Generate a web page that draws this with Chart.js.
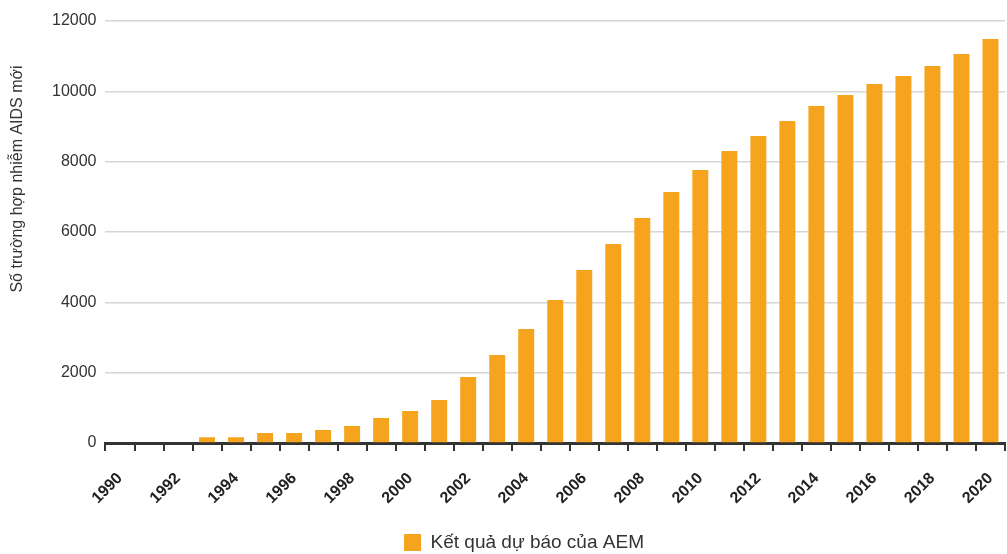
<!DOCTYPE html>
<html>
<head>
<meta charset="utf-8">
<script src="https://cdn.jsdelivr.net/npm/chart.js@4/dist/chart.umd.min.js"></script>
<style>
  html, body { margin: 0; padding: 0; background: #ffffff; }
  #wrap { width: 1007px; height: 554px; position: relative; }
</style>
</head>
<body>
<div id="wrap"><canvas id="c" width="1007" height="554"></canvas></div>
<script>
// Năm dự báo
const years = [1990, 1991, 1992, 1993, 1994, 1995, 1996, 1997, 1998, 1999,
  2000, 2001, 2002, 2003, 2004, 2005, 2006, 2007, 2008, 2009,
  2010, 2011, 2012, 2013, 2014, 2015, 2016, 2017, 2018, 2019, 2020];

// Số trường hợp nhiễm AIDS mới theo dự báo AEM
const newAidsCases = [0, 0, 0, 160, 160, 285, 285, 370, 485, 710,
  910, 1220, 1875, 2500, 3240, 4065, 4920, 5660, 6400, 7135,
  7760, 8300, 8730, 9155, 9580, 9895, 10210, 10435, 10720, 11060, 11490];

const yTicks = [0, 2000, 4000, 6000, 8000, 10000, 12000];
const seriesLabel = 'Kết quả dự báo của AEM';
const yAxisTitle = 'Số trường hợp nhiễm AIDS mới';

const sans = '"Liberation Sans", Arial, sans-serif';

// Tiêu đề trục tung, đặt lệch lên phía trên
const yTitlePlugin = {
  id: 'yTitle',
  afterDraw(chart) {
    const ctx = chart.ctx;
    ctx.save();
    ctx.translate(18, 179);
    ctx.rotate(-Math.PI / 2);
    ctx.font = '16px ' + sans;
    ctx.fillStyle = '#333333';
    ctx.textAlign = 'center';
    ctx.textBaseline = 'middle';
    ctx.fillText(yAxisTitle, 0, 0);
    ctx.restore();
  }
};

new Chart(document.getElementById('c'), {
  type: 'bar',
  data: {
    labels: years,
    datasets: [{
      label: seriesLabel,
      data: newAidsCases,
      backgroundColor: '#f6a41d',
      borderWidth: 0,
      categoryPercentage: 1.0,
      barPercentage: 0.55
    }]
  },
  options: {
    responsive: false,
    animation: false,
    layout: { padding: { left: 43, right: 2, top: 21, bottom: -8 } },
    plugins: {
      legend: {
        position: 'bottom',
        labels: {
          boxWidth: 17,
          boxHeight: 17,
          color: '#333333',
          padding: 3,
          font: { family: sans, size: 19 }
        }
      },
      tooltip: { enabled: false }
    },
    scales: {
      x: {
        offset: true,
        grid: {
          offset: true,
          drawOnChartArea: false,
          drawTicks: true,
          tickLength: 8,
          color: '#333333',
          lineWidth: 2
        },
        border: { display: true, color: '#333333', width: 3 },
        ticks: {
          autoSkip: false,
          maxRotation: 45,
          minRotation: 45,
          padding: 18,
          color: '#222222',
          font: { family: sans, size: 16, weight: 'bold' },
          callback: function (value, index) {
            const y = years[index];
            return y % 2 === 0 ? String(y) : '';
          }
        },
        // chừa khoảng trống giữa nhãn năm và chú giải, trục kéo sát mép phải
        afterFit: function (scale) {
          scale.height = 87;
          scale.paddingRight = 0;
        }
      },
      y: {
        min: 0,
        max: 12000,
        afterBuildTicks: function (scale) {
          scale.ticks = yTicks.map(v => ({ value: v }));
        },
        grid: {
          color: '#d6d6d6',
          lineWidth: 1.5,
          drawTicks: false
        },
        border: { display: false },
        ticks: {
          padding: 9,
          color: '#333333',
          font: { family: sans, size: 16 },
          callback: function (value) { return String(value); }
        }
      }
    }
  },
  plugins: [yTitlePlugin]
});
</script>
</body>
</html>
